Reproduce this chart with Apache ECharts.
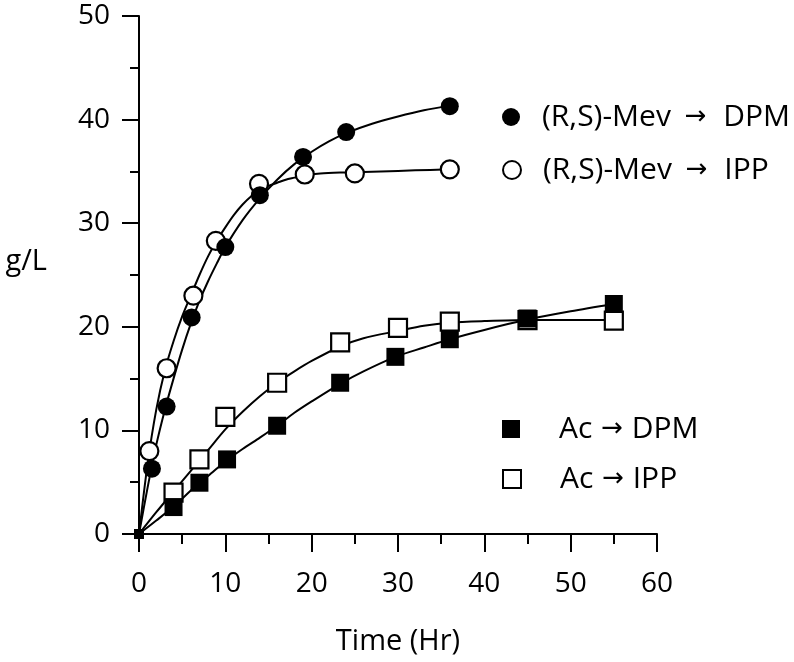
<!DOCTYPE html>
<html>
<head>
<meta charset="utf-8">
<script src="https://cdn.jsdelivr.net/npm/echarts@6/dist/echarts.min.js"></script>
<style>html,body{margin:0;padding:0;background:#fff}#c{width:794px;height:662px}</style>
</head>
<body>
<div id="c"></div>
<script>
// ---- data ----
const xTicks = [0, 10, 20, 30, 40, 50, 60];
const yTicks = [0, 10, 20, 30, 40, 50];

// measured points
const mevDpmName = '(R,S)-Mev \u2192 DPM';
const mevDpmX = [0, 1.5, 3.2, 6.1, 10, 14, 19, 24, 36];
const mevDpmY = [0, 6.3, 12.3, 20.9, 27.7, 32.7, 36.4, 38.8, 41.3];

const mevIppName = '(R,S)-Mev \u2192 IPP';
const mevIppX = [0, 1.2, 3.2, 6.3, 8.9, 13.9, 19.2, 25, 36];
const mevIppY = [0, 8.0, 16.0, 23.0, 28.3, 33.8, 34.7, 34.8, 35.2];

const acDpmName = 'Ac \u2192 DPM';
const acDpmX = [0, 4, 7, 10.2, 16, 23.3, 29.7, 36, 45, 55];
const acDpmY = [0, 2.6, 4.95, 7.2, 10.45, 14.6, 17.1, 18.8, 20.8, 22.2];

const acIppName = 'Ac \u2192 IPP';
const acIppX = [0, 4, 7, 10, 16, 23.3, 30, 36, 45, 55];
const acIppY = [0, 4.0, 7.2, 11.3, 14.6, 18.5, 19.9, 20.5, 20.65, 20.6];

// fitted curves
const mevDpmFitX = [0, 1, 2, 3, 4, 5, 6, 7, 8, 9, 10, 12, 14, 16, 18, 20, 22, 24, 27, 30, 33, 36];
const mevDpmFitY = [0, 4.5, 8.6, 12.0, 15.0, 17.8, 20.3, 22.5, 24.4, 26.1, 27.7, 30.3, 32.4, 34.2, 35.7, 36.9, 37.9, 38.7, 39.6, 40.3, 40.9, 41.35];

const mevIppFitX = [0, 1, 2, 3, 4, 5, 6, 7, 8, 9, 10, 11, 12, 13, 14, 15, 16, 17, 18, 19, 21, 24, 28, 32, 36];
const mevIppFitY = [0, 6.8, 12.0, 15.8, 18.6, 21.0, 23.0, 25.0, 26.8, 28.3, 29.6, 30.8, 31.8, 32.6, 33.2, 33.6, 33.9, 34.2, 34.4, 34.6, 34.8, 34.9, 35.0, 35.1, 35.2];

const acDpmFitX = [0, 2, 4, 6, 7, 8, 10, 12, 14, 16, 18, 20, 23.3, 26, 29.7, 33, 36, 40, 45, 50, 55];
const acDpmFitY = [0, 1.3, 2.65, 4.2, 4.95, 5.6, 7.0, 8.2, 9.3, 10.45, 11.7, 12.8, 14.5, 15.7, 17.1, 18.0, 18.8, 19.7, 20.7, 21.5, 22.2];

const acIppFitX = [0, 2, 4, 6, 7, 8, 10, 12, 14, 16, 18, 20, 23.3, 26, 30, 33, 36, 40, 45, 50, 55];
const acIppFitY = [0, 2.1, 4.1, 6.1, 7.1, 8.1, 10.1, 11.8, 13.3, 14.6, 15.7, 16.7, 18.1, 18.9, 19.6, 20.1, 20.4, 20.55, 20.65, 20.65, 20.65];

// ---- build ----
const FONT = '"Open Sans", "Noto Sans", sans-serif';
function zip(xs, ys) { return xs.map((x, i) => [x, ys[i]]); }
function pointSeries(name, xs, ys, symbol, filled, z, showOrigin) {
  return {
    name, type: 'scatter',
    data: xs.map((x, i) => {
      const item = { value: [x, ys[i]] };
      if (i === 0) { if (showOrigin) item.symbolSize = 10; else item.symbol = 'none'; }
      return item;
    }),
    symbol, symbolSize: 18,
    itemStyle: { color: filled ? '#000' : '#fff', borderColor: '#000', borderWidth: filled ? 0 : 2.2, opacity: 1 },
    z, animation: false
  };
}
function fitSeries(name, xs, ys) {
  return {
    name, type: 'line', data: zip(xs, ys), smooth: 0.3, symbol: 'none',
    lineStyle: { color: '#000', width: 2 }, z: 2, animation: false, silent: true
  };
}
function legend(name, top, textPad, arrPad) {
  return {
    data: [name], left: 502, top, padding: 0,
    itemWidth: 18, itemHeight: 18, selectedMode: false,
    formatter: (n) => n.split('\u2192').join('{arr|\u2192}'),
    textStyle: {
      fontFamily: FONT, fontSize: 30, color: '#000', lineHeight: 32, padding: [0, 0, 0, textPad],
      rich: { arr: { fontFamily: '"DejaVu Sans"', fontSize: 26, color: '#000', lineHeight: 32, padding: arrPad } }
    }
  };
}

const chart = echarts.init(document.getElementById('c'), null, { renderer: 'canvas' });
chart.setOption({
  animation: false,
  backgroundColor: '#fff',
  grid: { left: 139, right: 137, top: 16, bottom: 128, containLabel: false },
  legend: [
    legend(mevDpmName, 117 - 16, 17, [0, 9, 0, 6]),
    legend(mevIppName, 170 - 16, 17, [0, 9, 0, 6]),
    legend(acDpmName, 429 - 16, 34, [0, 1, 0, 1]),
    legend(acIppName, 479 - 16, 34, [0, 1, 0, 1])
  ],
  xAxis: {
    type: 'value', min: xTicks[0], max: xTicks[xTicks.length - 1], interval: 10,
    name: 'Time (Hr)', nameLocation: 'middle', nameGap: 93,
    nameTextStyle: { fontFamily: FONT, fontSize: 29, color: '#000' },
    axisLine: { show: true, onZero: false, lineStyle: { color: '#000', width: 2 } },
    axisTick: { show: true, length: 18, lineStyle: { color: '#000', width: 2 } },
    minorTick: { show: true, splitNumber: 2, length: 10, lineStyle: { color: '#000', width: 2 } },
    splitLine: { show: false },
    axisLabel: { fontFamily: FONT, fontSize: 28, color: '#000', margin: 36 }
  },
  yAxis: {
    type: 'value', min: yTicks[0], max: yTicks[yTicks.length - 1], interval: 10,
    name: 'g/L', nameLocation: 'middle', nameGap: 92, nameRotate: 0,
    nameTextStyle: { fontFamily: FONT, fontSize: 29, color: '#000', verticalAlign: 'bottom', lineHeight: 26 },
    axisLine: { show: true, onZero: false, lineStyle: { color: '#000', width: 2 } },
    axisTick: { show: true, length: 17, lineStyle: { color: '#000', width: 2 } },
    minorTick: { show: true, splitNumber: 2, length: 9, lineStyle: { color: '#000', width: 2 } },
    splitLine: { show: false },
    axisLabel: { fontFamily: FONT, fontSize: 28, color: '#000', margin: 29 }
  },
  series: [
    fitSeries('fit-mev-ipp', mevIppFitX, mevIppFitY),
    fitSeries('fit-mev-dpm', mevDpmFitX, mevDpmFitY),
    fitSeries('fit-ac-ipp', acIppFitX, acIppFitY),
    fitSeries('fit-ac-dpm', acDpmFitX, acDpmFitY),
    pointSeries(mevIppName, mevIppX, mevIppY, 'circle', false, 3, false),
    pointSeries(mevDpmName, mevDpmX, mevDpmY, 'circle', true, 4, false),
    pointSeries(acIppName, acIppX, acIppY, 'rect', false, 5, false),
    pointSeries(acDpmName, acDpmX, acDpmY, 'rect', true, 6, true)
  ]
});
</script>
</body>
</html>
